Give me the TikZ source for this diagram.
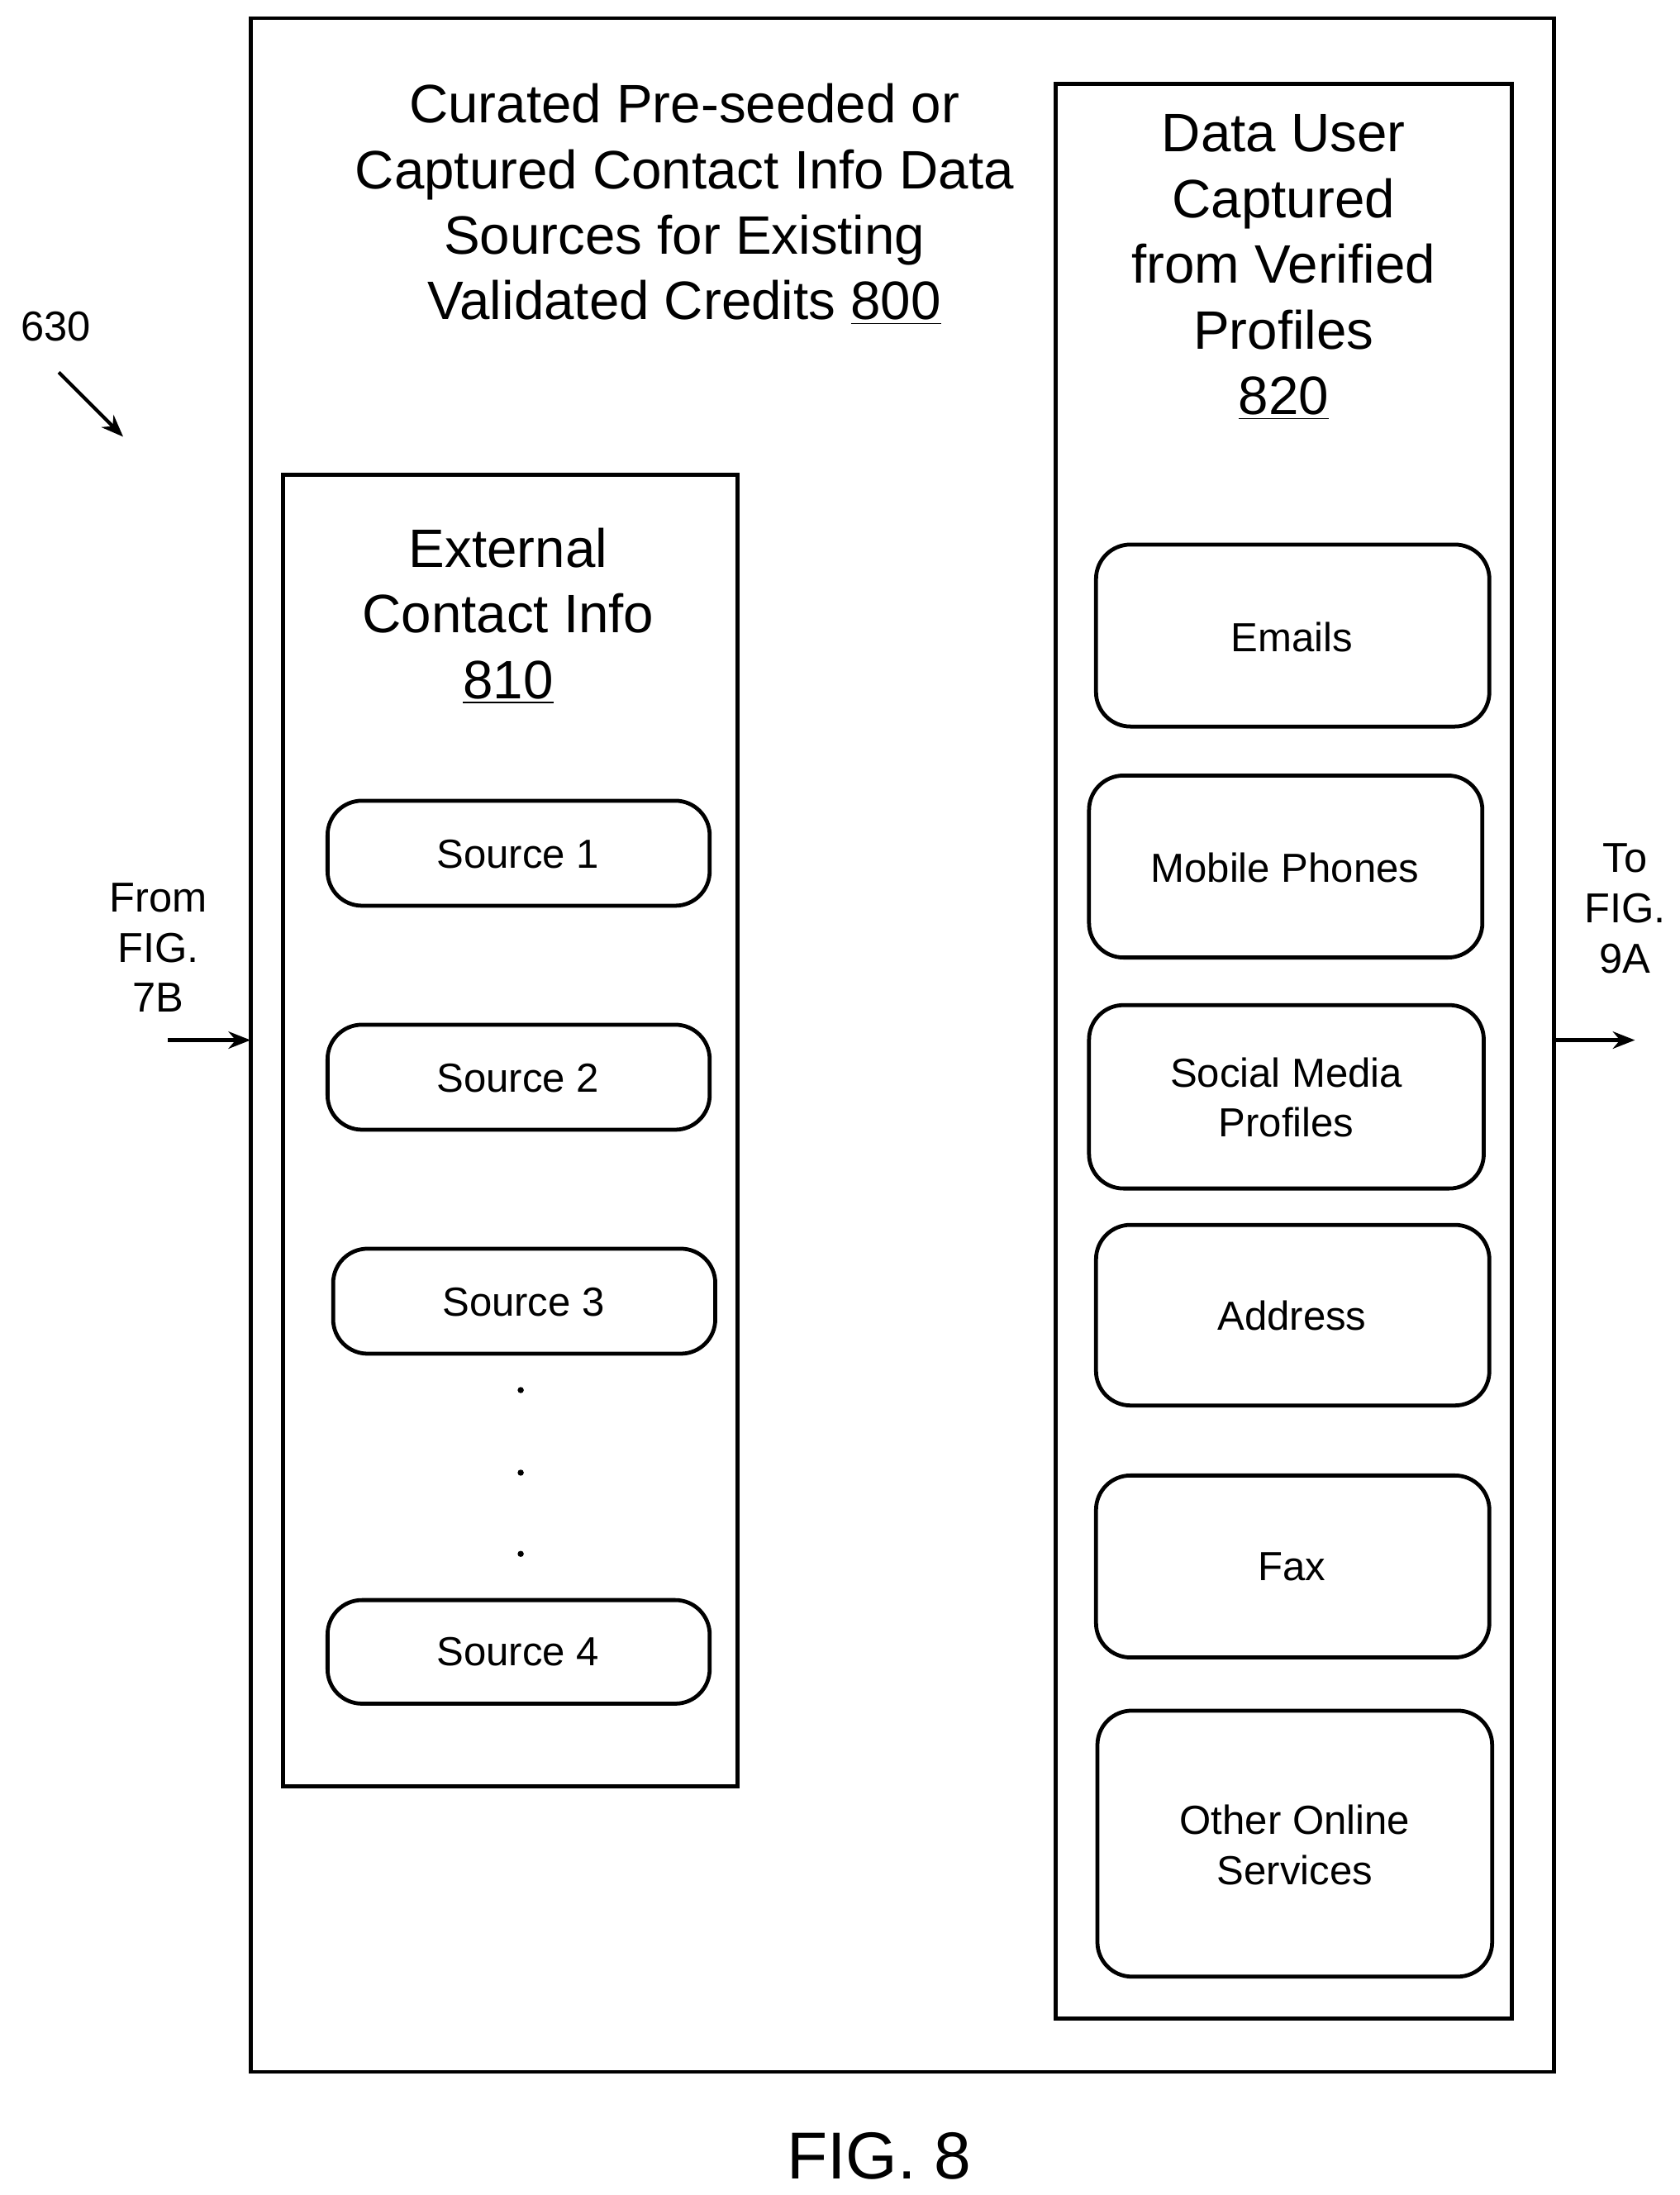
\documentclass[tikz,border=0pt]{standalone}
\usepackage{fontspec}
\setmainfont{Liberation Sans}
\usetikzlibrary{arrows.meta}
\begin{document}
\begin{tikzpicture}[x=0.02cm, y=-0.02cm]
  \tikzstyle{frame}=[draw, line width=1.6pt]
  \tikzstyle{item}=[draw, line width=1.6pt, rounded corners=14pt]
  \tikzstyle{big}=[font=\fontsize{22}{26.7}\selectfont, align=center]
  \tikzstyle{small}=[font=\fontsize{16.5}{20.4}\selectfont, align=center]
  \tikzstyle{flow}=[line width=1.4pt, -{Stealth[length=9pt,width=7pt]}]
  \useasboundingbox (0,0) rectangle (1200,1568);

  % outer box
  \draw[frame] (179,13) rectangle (1110,1480);
  \coordinate (outerW) at (179,743);
  \coordinate (outerE) at (1110,743);
  \node[big] (title) at (489,146) {Curated Pre-seeded or\\Captured Contact Info Data\\Sources for Existing\\Validated Credits \underline{800}};

  % reference label
  \node[small, font=\fontsize{17}{20}\selectfont] (ref) at (40,233) {630};
  \draw[flow] (42,266) -- (88,312);

  % external contact info
  \draw[frame] (202,339) rectangle (527,1276);
  \node[big] (ext) at (363,440) {External\\Contact Info\\\underline{810}};
  \draw[item] (234,572) rectangle (507,647);
  \node[small] (s1) at (370,610) {Source 1};
  \draw[item] (234,732) rectangle (507,807);
  \node[small] (s2) at (370,770) {Source 2};
  \draw[item] (238,892) rectangle (511,967);
  \node[small] (s3) at (374,930) {Source 3};
  \foreach \y in {993,1052,1110}
    \fill (372,\y) circle (2.2);
  \draw[item] (234,1143) rectangle (507,1217);
  \node[small] (s4) at (370,1180) {Source 4};

  % verified profiles
  \draw[frame] (754,60) rectangle (1080,1442);
  \node[big] (ver) at (917,191) {Data User\\Captured\\from Verified\\Profiles\\\underline{820}};
  \draw[item] (783,389) rectangle (1064,519);
  \node[small] (mail) at (923,455) {Emails};
  \draw[item] (778,554) rectangle (1059,684);
  \node[small] (mob) at (918,620) {Mobile Phones};
  \draw[item] (778,718) rectangle (1060,849);
  \node[small] (soc) at (919,784) {Social Media\\Profiles};
  \draw[item] (783,875) rectangle (1064,1004);
  \node[small] (addr) at (923,940) {Address};
  \draw[item] (783,1054) rectangle (1064,1184);
  \node[small] (fax) at (923,1119) {Fax};
  \draw[item] (784,1222) rectangle (1066,1412);
  \node[small] (oth) at (925,1318) {Other Online\\Services};

  % in and out
  \node[small, font=\fontsize{17}{20.4}\selectfont] (from) at (113,677) {From\\FIG.\\7B};
  \coordinate (in) at (120,743);
  \draw[flow] (in) -- (outerW);
  \node[small, font=\fontsize{17}{20.4}\selectfont] (to) at (1161,649) {To\\FIG.\\9A};
  \coordinate (out) at (1168,743);
  \draw[flow] (outerE) -- (out);

  \node[font=\fontsize{27}{32}\selectfont] (fig) at (628,1540) {FIG. 8};
\end{tikzpicture}
\end{document}
